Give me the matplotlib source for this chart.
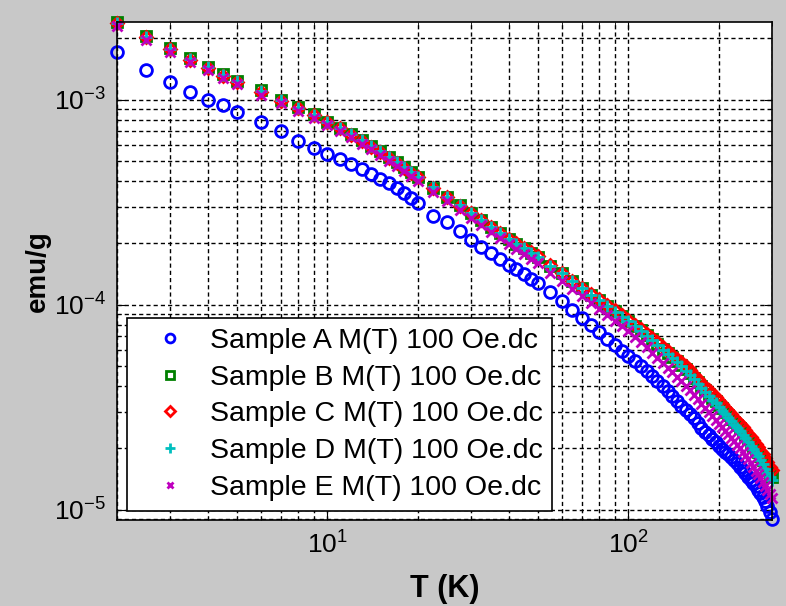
import matplotlib
matplotlib.use("Agg")
import matplotlib.pyplot as plt

# temperature points (K)
T = [2, 2.5, 3, 3.5, 4, 4.5, 5, 6, 7, 8, 9, 10, 11, 12, 13, 14, 15, 16, 17, 18, 19, 20,
     22.5, 25, 27.5, 30, 32.5, 35, 37.5, 40, 42.5, 45, 47.5, 50,
     55, 60, 65, 70, 75, 80, 85, 90, 95, 100, 105, 110, 115, 120, 125, 130, 135, 140,
     145, 150, 155, 160, 165, 170, 175, 180, 185, 190, 195, 200, 205, 210, 215, 220,
     225, 230, 235, 240, 245, 250, 255, 260, 265, 270, 275, 280, 285, 290, 295, 300]

sample_a = [1.71e-3, 1.40e-3, 1.22e-3, 1.09e-3, 1.00e-3, 9.45e-4, 8.75e-4, 7.8e-4, 7.0e-4, 6.3e-4,
            5.8e-4, 5.45e-4, 5.15e-4, 4.88e-4, 4.6e-4, 4.36e-4, 4.1e-4, 3.92e-4, 3.72e-4, 3.52e-4,
            3.32e-4, 3.12e-4, 2.72e-4, 2.52e-4, 2.28e-4, 2.07e-4, 1.92e-4, 1.78e-4, 1.67e-4, 1.57e-4,
            1.49e-4, 1.41e-4, 1.34e-4, 1.28e-4, 1.15e-4, 1.04e-4, 9.45e-5, 8.65e-5, 7.95e-5, 7.35e-5,
            6.8e-5, 6.35e-5, 5.95e-5, 5.6e-5, 5.28e-5, 5.0e-5, 4.74e-5, 4.5e-5, 4.24e-5, 4.0e-5,
            3.8e-5, 3.6e-5, 3.4e-5, 3.22e-5, 3.07e-5, 2.93e-5, 2.8e-5, 2.65e-5, 2.5e-5, 2.4e-5,
            2.3e-5, 2.21e-5, 2.13e-5, 2.05e-5, 1.98e-5, 1.92e-5, 1.86e-5, 1.8e-5, 1.74e-5, 1.68e-5,
            1.62e-5, 1.56e-5, 1.5e-5, 1.45e-5, 1.4e-5, 1.35e-5, 1.3e-5, 1.25e-5, 1.2e-5, 1.15e-5,
            1.1e-5, 1.04e-5, 9.7e-6, 9.0e-6]

sample_b = [2.40e-3, 2.05e-3, 1.78e-3, 1.59e-3, 1.45e-3, 1.33e-3, 1.24e-3, 1.11e-3, 1.0e-3, 9.2e-4,
            8.5e-4, 7.8e-4, 7.3e-4, 6.8e-4, 6.35e-4, 5.95e-4, 5.6e-4, 5.25e-4, 4.95e-4, 4.68e-4,
            4.42e-4, 4.2e-4, 3.72e-4, 3.35e-4, 3.05e-4, 2.8e-4, 2.58e-4, 2.4e-4, 2.24e-4, 2.1e-4,
            1.98e-4, 1.88e-4, 1.79e-4, 1.71e-4, 1.55e-4, 1.42e-4, 1.3e-4, 1.2e-4, 1.12e-4, 1.05e-4,
            9.85e-5, 9.3e-5, 8.8e-5, 8.35e-5, 7.9e-5, 7.5e-5, 7.12e-5, 6.78e-5, 6.43e-5, 6.1e-5,
            5.82e-5, 5.56e-5, 5.32e-5, 5.1e-5, 4.86e-5, 4.63e-5, 4.4e-5, 4.2e-5, 4.0e-5, 3.83e-5,
            3.67e-5, 3.52e-5, 3.38e-5, 3.25e-5, 3.12e-5, 3.0e-5, 2.89e-5, 2.78e-5, 2.68e-5, 2.58e-5,
            2.49e-5, 2.4e-5, 2.31e-5, 2.22e-5, 2.13e-5, 2.05e-5, 1.97e-5, 1.9e-5, 1.82e-5, 1.74e-5,
            1.66e-5, 1.58e-5, 1.5e-5, 1.45e-5]

sample_c = [2.37e-3, 2.02e-3, 1.76e-3, 1.57e-3, 1.43e-3, 1.31e-3, 1.22e-3, 1.09e-3, 9.9e-4, 9.1e-4,
            8.4e-4, 7.75e-4, 7.25e-4, 6.75e-4, 6.3e-4, 5.9e-4, 5.55e-4, 5.22e-4, 4.92e-4, 4.65e-4,
            4.4e-4, 4.18e-4, 3.7e-4, 3.34e-4, 3.04e-4, 2.79e-4, 2.58e-4, 2.4e-4, 2.24e-4, 2.1e-4,
            1.99e-4, 1.89e-4, 1.8e-4, 1.72e-4, 1.56e-4, 1.43e-4, 1.31e-4, 1.21e-4, 1.13e-4, 1.06e-4,
            9.95e-5, 9.4e-5, 8.9e-5, 8.45e-5, 8.0e-5, 7.6e-5, 7.23e-5, 6.9e-5, 6.56e-5, 6.24e-5,
            5.96e-5, 5.7e-5, 5.46e-5, 5.24e-5, 5.0e-5, 4.78e-5, 4.56e-5, 4.36e-5, 4.16e-5, 3.98e-5,
            3.82e-5, 3.67e-5, 3.53e-5, 3.39e-5, 3.26e-5, 3.14e-5, 3.03e-5, 2.92e-5, 2.81e-5, 2.71e-5,
            2.62e-5, 2.53e-5, 2.44e-5, 2.35e-5, 2.26e-5, 2.18e-5, 2.1e-5, 2.02e-5, 1.94e-5, 1.86e-5,
            1.78e-5, 1.7e-5, 1.62e-5, 1.56e-5]

sample_d = [2.38e-3, 2.03e-3, 1.77e-3, 1.58e-3, 1.44e-3, 1.32e-3, 1.23e-3, 1.10e-3, 9.95e-4, 9.15e-4,
            8.45e-4, 7.8e-4, 7.3e-4, 6.8e-4, 6.35e-4, 5.95e-4, 5.6e-4, 5.25e-4, 4.95e-4, 4.68e-4,
            4.42e-4, 4.2e-4, 3.73e-4, 3.36e-4, 3.06e-4, 2.8e-4, 2.58e-4, 2.4e-4, 2.24e-4, 2.1e-4,
            1.98e-4, 1.88e-4, 1.79e-4, 1.71e-4, 1.55e-4, 1.42e-4, 1.3e-4, 1.2e-4, 1.12e-4, 1.05e-4,
            9.8e-5, 9.25e-5, 8.75e-5, 8.3e-5, 7.85e-5, 7.45e-5, 7.07e-5, 6.72e-5, 6.37e-5, 6.04e-5,
            5.75e-5, 5.48e-5, 5.24e-5, 5.01e-5, 4.77e-5, 4.54e-5, 4.32e-5, 4.12e-5, 3.92e-5, 3.75e-5,
            3.59e-5, 3.44e-5, 3.3e-5, 3.17e-5, 3.04e-5, 2.92e-5, 2.81e-5, 2.7e-5, 2.6e-5, 2.5e-5,
            2.41e-5, 2.32e-5, 2.23e-5, 2.14e-5, 2.05e-5, 1.97e-5, 1.89e-5, 1.82e-5, 1.74e-5, 1.66e-5,
            1.58e-5, 1.51e-5, 1.45e-5, 1.4e-5]

sample_e = [2.3e-3, 1.96e-3, 1.71e-3, 1.53e-3, 1.4e-3, 1.28e-3, 1.19e-3, 1.06e-3, 9.6e-4, 8.85e-4,
            8.15e-4, 7.52e-4, 7.02e-4, 6.55e-4, 6.1e-4, 5.72e-4, 5.38e-4, 5.04e-4, 4.75e-4, 4.48e-4,
            4.23e-4, 4.0e-4, 3.56e-4, 3.2e-4, 2.91e-4, 2.66e-4, 2.45e-4, 2.27e-4, 2.12e-4, 1.98e-4,
            1.86e-4, 1.76e-4, 1.67e-4, 1.59e-4, 1.43e-4, 1.31e-4, 1.19e-4, 1.1e-4, 1.02e-4, 9.5e-5,
            8.9e-5, 8.35e-5, 7.85e-5, 7.4e-5, 6.95e-5, 6.55e-5, 6.18e-5, 5.84e-5, 5.5e-5, 5.2e-5,
            4.93e-5, 4.68e-5, 4.45e-5, 4.24e-5, 4.03e-5, 3.83e-5, 3.63e-5, 3.45e-5, 3.28e-5, 3.13e-5,
            2.99e-5, 2.86e-5, 2.74e-5, 2.63e-5, 2.52e-5, 2.42e-5, 2.33e-5, 2.24e-5, 2.15e-5, 2.07e-5,
            1.99e-5, 1.91e-5, 1.83e-5, 1.76e-5, 1.69e-5, 1.62e-5, 1.55e-5, 1.49e-5, 1.42e-5, 1.36e-5,
            1.3e-5, 1.24e-5, 1.19e-5, 1.14e-5]

labels = ['Sample A M(T) 100 Oe.dc', 'Sample B M(T) 100 Oe.dc', 'Sample C M(T) 100 Oe.dc',
          'Sample D M(T) 100 Oe.dc', 'Sample E M(T) 100 Oe.dc']

plt.rcParams['font.family'] = ['Liberation Sans', 'DejaVu Sans']
plt.rcParams['mathtext.fontset'] = 'custom'
plt.rcParams['mathtext.rm'] = 'Liberation Sans'

fig = plt.figure(figsize=(7.86, 6.06), dpi=100, facecolor='#c8c8c8')
ax = fig.add_axes([0.149, 0.142, 0.833, 0.822])

ax.plot(T, sample_a, 'o', mfc='none', mec='#0000ff', ms=8.5, mew=2.0, label=labels[0], clip_on=False)
ax.plot(T, sample_b, 's', mfc='none', mec='#008000', ms=7.5, mew=2.0, label=labels[1], clip_on=False)
ax.plot(T, sample_c, 'D', mfc='none', mec='#ff0000', ms=6.5, mew=2.0, label=labels[2], clip_on=False)
ax.plot(T, sample_d, '+', color='#00bfbf', ms=9, mew=2.0, label=labels[3], clip_on=False)
ax.plot(T, sample_e, 'x', color='#bf00bf', ms=6.5, mew=2.0, label=labels[4], clip_on=False)

ax.set_xscale('log')
ax.set_yscale('log')
ax.set_xlim(2, 300)
ax.set_ylim(8.9e-6, 2.4e-3)

ax.grid(True, which='both', color='k', linestyle=(0, (3, 2.2)), linewidth=1.0)
ax.tick_params(which='both', direction='in', top=True, right=True, labelsize=19, pad=8)
ax.tick_params(which='major', length=6)
ax.tick_params(which='minor', length=3)
for s in ax.spines.values():
    s.set_linewidth(1.2)

ax.set_xlabel('T (K)', fontsize=22, fontweight='bold', labelpad=11)
ax.set_ylabel('emu/g', fontsize=20, fontweight='bold', labelpad=2)

leg = ax.legend(loc='lower left', bbox_to_anchor=(10 / 655, 9 / 498), borderaxespad=0,
                fontsize=20.5, fancybox=False, edgecolor='k', framealpha=1, numpoints=1,
                markerscale=0.75, borderpad=0.35, handlelength=2.3, handletextpad=0.25,
                labelspacing=0.38)
leg.get_frame().set_linewidth(1.2)

fig.savefig('out.png', dpi=100, facecolor=fig.get_facecolor())
